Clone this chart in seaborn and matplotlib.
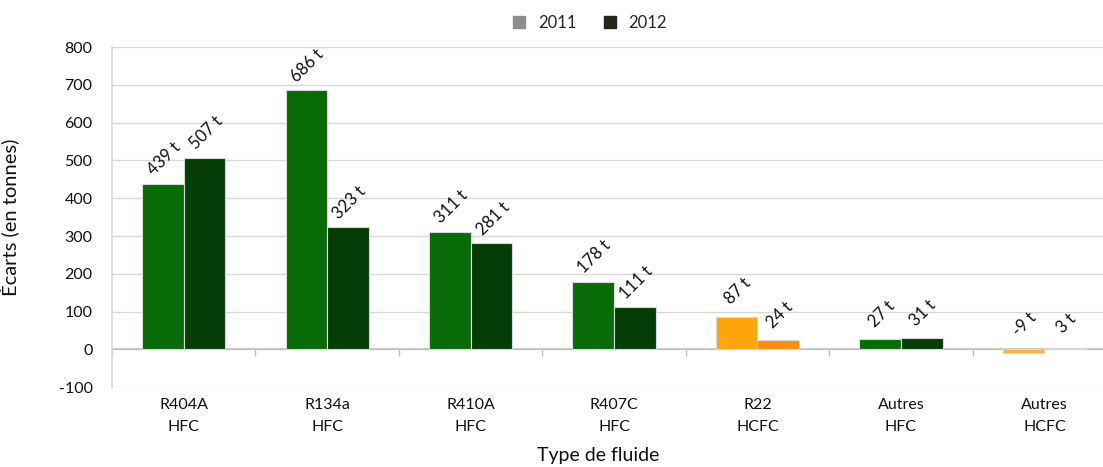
import matplotlib
matplotlib.use("Agg")
import matplotlib.pyplot as plt
import seaborn as sns
import pandas as pd
from matplotlib.lines import Line2D

categories = ["R404A\nHFC", "R134a\nHFC", "R410A\nHFC", "R407C\nHFC", "R22\nHCFC", "Autres\nHFC", "Autres\nHCFC"]
families = ["HFC", "HFC", "HFC", "HFC", "HCFC", "HFC", "HCFC"]
years = ["2011", "2012"]
values_2011 = [439, 686, 311, 178, 87, 27, -9]
values_2012 = [507, 323, 281, 111, 24, 31, 3]

df = pd.DataFrame({
    "cat": categories * 2,
    "year": [years[0]] * len(categories) + [years[1]] * len(categories),
    "val": values_2011 + values_2012,
})

green = {"2011": "#086B08", "2012": "#063C06"}
orange = {"2011": "#FFA50C", "2012": "#FF8E0C"}
orange_other = {"2011": "#F9B13A", "2012": "#F2A35A"}
legend_col = {"2011": "#8C8C8C", "2012": "#25251A"}

sns.set_theme(style="white")
plt.rcParams["font.family"] = ["Lato", "DejaVu Sans"]
plt.rcParams["axes.unicode_minus"] = False

fig = plt.figure(figsize=(11.03, 4.67), dpi=100)
ax = fig.add_axes([0.1015, 0.171, 0.9, 0.728])

sns.barplot(data=df, x="cat", y="val", hue="year", palette=[green["2011"], green["2012"]],
            width=0.58, ax=ax, legend=False, edgecolor="#D8D8D8", linewidth=0.8,
            saturation=1, err_kws={"linewidth": 0})

for yi, (yr, cont) in enumerate(zip(years, ax.containers)):
    vals = values_2011 if yr == "2011" else values_2012
    for i, (bar, v) in enumerate(zip(cont, vals)):
        if families[i] == "HCFC":
            c = orange[yr] if categories[i].startswith("R22") else orange_other[yr]
            bar.set_facecolor(c)
        bar.set_zorder(2)
        x = bar.get_x() + bar.get_width() / 2
        ax.annotate(f"{v} t", xy=(x, max(v, 0)), xytext=(1, 18), textcoords="offset points",
                    rotation=45, ha="center", va="center", fontsize=12, color="#111111")

ax.set_ylim(-100, 800)
ax.set_yticks(range(-100, 801, 100))
ax.set_xlim(-0.5, 6.42)
ax.yaxis.grid(True, color="#D9D9D9", linewidth=1)
ax.set_axisbelow(True)
for s in ["top", "right", "bottom"]:
    ax.spines[s].set_visible(False)
ax.spines["left"].set_color("#D9D9D9")
ax.axhline(0, color="#BFBFBF", linewidth=1.2, zorder=1)

ax.tick_params(axis="x", length=0, pad=8, labelsize=11.5, colors="#111111")
for lbl in ax.get_xticklabels():
    lbl.set_linespacing(1.7)
ax.tick_params(axis="y", direction="out", length=6, width=1, color="#D9D9D9",
               pad=8, labelsize=11.5, labelcolor="#111111")

sec = ax.secondary_xaxis(100 / 900)
sec.set_xticks([i + 0.5 for i in range(-1, len(categories))])
sec.set_xticklabels([])
sec.tick_params(axis="x", direction="out", length=5, color="#BFBFBF", width=1)
sec.spines["bottom"].set_visible(False)

ax.set_xlabel("Type de fluide", fontsize=14, color="#111111")
ax.set_ylabel("Écarts (en tonnes)", fontsize=14.5, color="#111111")
ax.xaxis.set_label_coords(0.49, -0.175)
ax.yaxis.set_label_coords(-0.093, 0.5)

handles = [Line2D([0], [0], marker="s", linestyle="", markersize=8,
                  markerfacecolor=legend_col[y], markeredgecolor=legend_col[y]) for y in years]
fig.legend(handles, years, loc="upper center", bbox_to_anchor=(0.53, 1.0), ncol=2,
           frameon=False, fontsize=12, handletextpad=0.1, columnspacing=1.0)

fig.savefig("out.png", dpi=100)
